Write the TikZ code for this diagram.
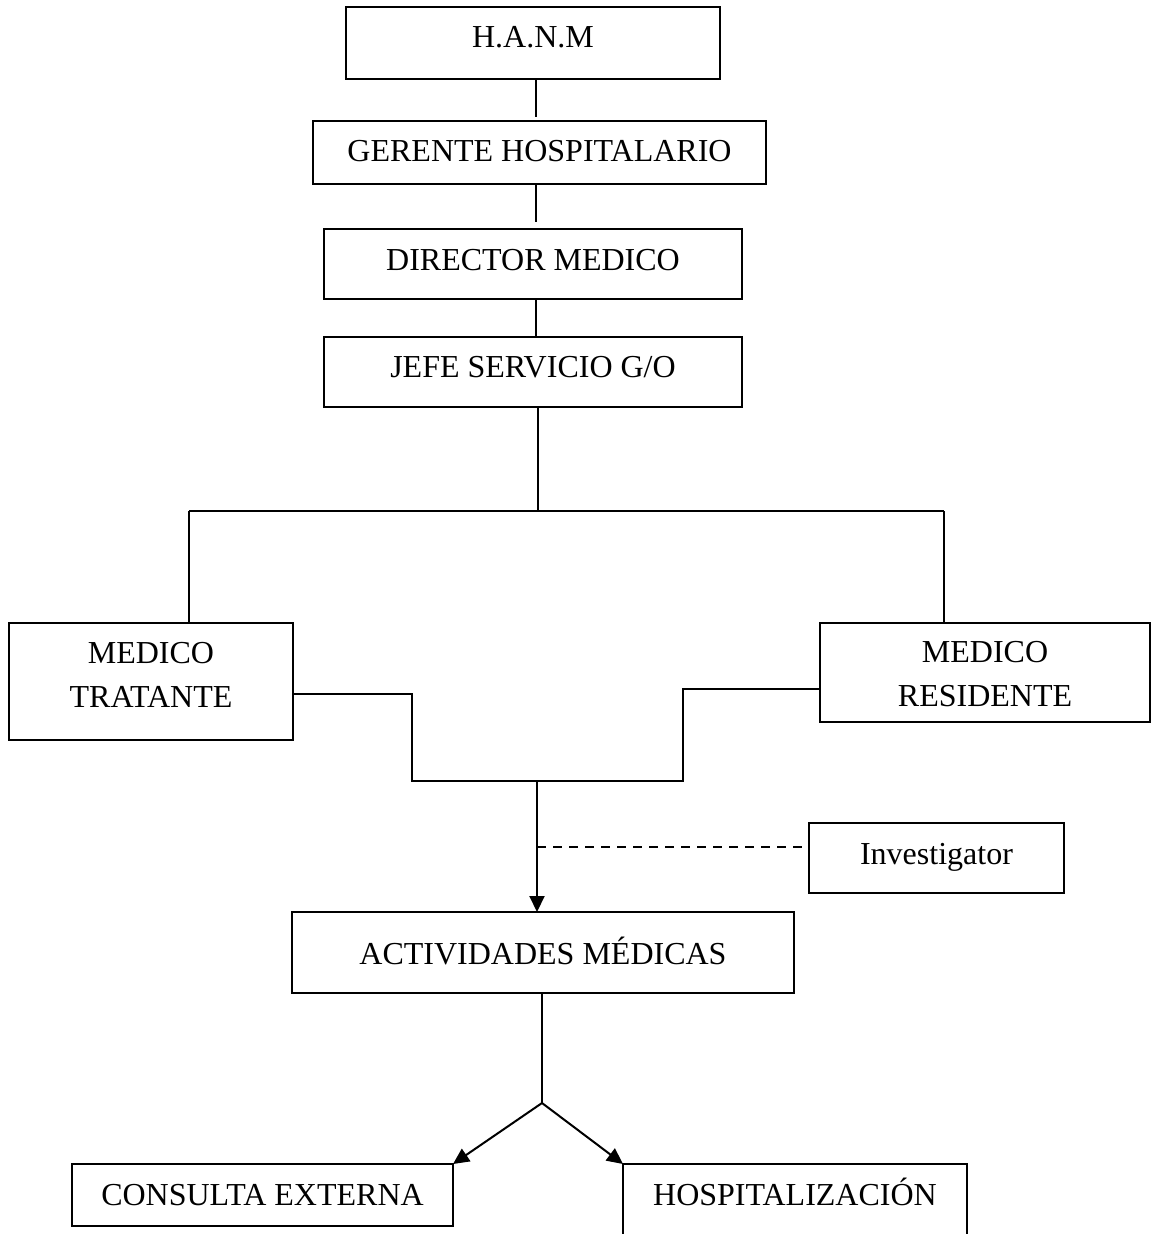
\documentclass[tikz,border=0pt]{standalone}
\usepackage{fontspec}
\setmainfont{Liberation Serif}
\usetikzlibrary{arrows.meta}
\begin{document}
\begin{tikzpicture}[x=1pt,y=-1pt,line width=2pt,
  box/.style={draw, rectangle, inner sep=0pt, outer sep=0pt, anchor=north west,
              font=\fontsize{32}{44}\selectfont},
  arr/.style={-{Triangle[length=16pt,width=15pt]}},
  dashline/.style={dash pattern=on 9pt off 7pt}]
\clip (0,0) rectangle (1152,1234);
\fill[white] (0,0) rectangle (1152,1234);
% boxes
\node[box, minimum width=374pt, text height=40pt, text depth=32pt] (hanm) at (346,7) {H.A.N.M};
\node[box, minimum width=453pt, text height=40pt, text depth=23pt] (gerente) at (313,121) {GERENTE HOSPITALARIO};
\node[box, minimum width=418pt, text height=41pt, text depth=29pt] (director) at (324,229) {DIRECTOR MEDICO};
\node[box, minimum width=418pt, text height=40pt, text depth=30pt] (jefe) at (324,337) {JEFE SERVICIO G/O};
\node[box, minimum width=284pt, text height=84pt, text depth=33pt] (tratante) at (9,623)
  {\begin{tabular}[b]{@{}c@{}}MEDICO\\TRATANTE\end{tabular}};
\node[box, minimum width=330pt, text height=83pt, text depth=16pt] (residente) at (820,623)
  {\begin{tabular}[b]{@{}c@{}}MEDICO\\RESIDENTE\end{tabular}};
\node[box, minimum width=255pt, text height=41pt, text depth=29pt] (investigator) at (809,823) {Investigator};
\node[box, minimum width=502pt, text height=52pt, text depth=29pt] (actividades) at (292,912) {ACTIVIDADES MÉDICAS};
\node[box, minimum width=381pt, text height=41pt, text depth=21pt] (consulta) at (72,1164) {CONSULTA EXTERNA};
\node[box, minimum width=344pt, text height=41pt, text depth=70pt] (hosp) at (623,1164) {HOSPITALIZACIÓN};
% connectors
\draw ([xshift=3pt]hanm.south) -- ([xshift=-3.5pt,yshift=4pt]gerente.north);
\draw ([xshift=-3.5pt]gerente.south) -- ([xshift=3pt,yshift=7pt]director.north);
\draw ([xshift=3pt]director.south) -- ([xshift=3pt]jefe.north);
\coordinate (bus) at (538,511);
\coordinate (busL) at (189,511);
\coordinate (busR) at (944,511);
\draw ([xshift=5pt]jefe.south) -- (bus);
\draw (busL) -- (busR);
\draw (busL) -- (busL |- tratante.north);
\draw (busR) -- (busR |- residente.north);
\coordinate (merge) at (537,781);
\draw ([yshift=-12.5pt]tratante.east) -| (412,781) -- (merge) -- (683,781) |- ([yshift=-16.5pt]residente.west);
\draw[arr] (merge) -- (merge |- actividades.north);
\coordinate (tap) at (537,847);
\draw[dashline] (tap) -- (investigator.west |- tap);
\coordinate (split) at (542,1103);
\draw (split |- actividades.south) -- (split);
\draw[arr] (split) -- (consulta.north east);
\draw[arr] (split) -- (hosp.north west);
\end{tikzpicture}
\end{document}
